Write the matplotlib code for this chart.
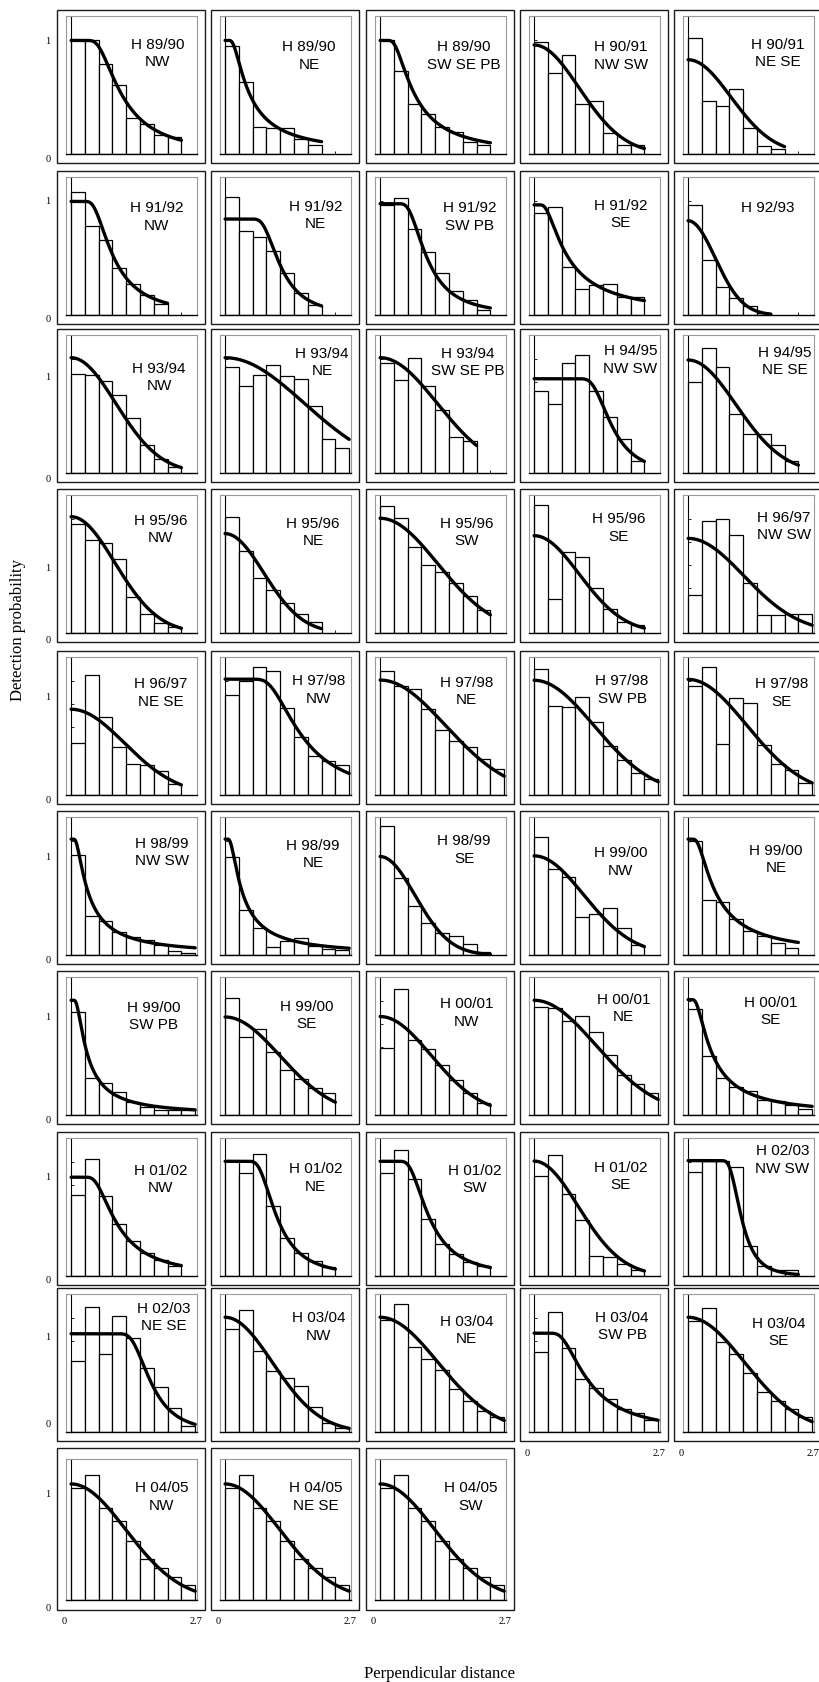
import numpy as np
import matplotlib.pyplot as plt
from matplotlib.patches import Rectangle
from matplotlib.transforms import offset_copy

W, H = 819, 1683
SERIF = ["Liberation Serif", "DejaVu Serif"]
SANS = ["Liberation Sans", "DejaVu Sans"]

# panel titles (season, strata), row by row
seasons = ["H 89/90", "H 89/90", "H 89/90", "H 90/91", "H 90/91",
           "H 91/92", "H 91/92", "H 91/92", "H 91/92", "H 92/93",
           "H 93/94", "H 93/94", "H 93/94", "H 94/95", "H 94/95",
           "H 95/96", "H 95/96", "H 95/96", "H 95/96", "H 96/97",
           "H 96/97", "H 97/98", "H 97/98", "H 97/98", "H 97/98",
           "H 98/99", "H 98/99", "H 98/99", "H 99/00", "H 99/00",
           "H 99/00", "H 99/00", "H 00/01", "H 00/01", "H 00/01",
           "H 01/02", "H 01/02", "H 01/02", "H 01/02", "H 02/03",
           "H 02/03", "H 03/04", "H 03/04", "H 03/04", "H 03/04",
           "H 04/05", "H 04/05", "H 04/05"]
strata = ["NW", "NE", "SW SE PB", "NW SW", "NE SE",
          "NW", "NE", "SW PB", "SE", "",
          "NW", "NE", "SW SE PB", "NW SW", "NE SE",
          "NW", "NE", "SW", "SE", "NW SW",
          "NE SE", "NW", "NE", "SW PB", "SE",
          "NW SW", "NE", "SE", "NW", "NE",
          "SW PB", "SE", "NW", "NE", "SE",
          "NW", "NE", "SW", "SE", "NW SW",
          "NE SE", "NW", "NE", "SW PB", "SE",
          "NW", "NE SE", "SW"]

# scaled histogram heights, bins of 0.3 starting at 0
bars = [
    [1.0, 1.0, 0.79, 0.61, 0.315, 0.265, 0.17, 0.15],
    [0.95, 0.63, 0.24, 0.23, 0.23, 0.13, 0.08],
    [1.0, 0.735, 0.44, 0.35, 0.24, 0.19, 0.11, 0.08],
    [0.985, 0.71, 0.87, 0.44, 0.47, 0.185, 0.08, 0.08],
    [1.02, 0.47, 0.42, 0.57, 0.23, 0.07, 0.04],
    [1.08, 0.78, 0.66, 0.41, 0.27, 0.18, 0.10],
    [1.04, 0.74, 0.69, 0.565, 0.37, 0.19, 0.09],
    [0.97, 1.03, 0.76, 0.555, 0.37, 0.21, 0.13, 0.045],
    [0.90, 0.95, 0.42, 0.23, 0.26, 0.275, 0.16, 0.16],
    [0.97, 0.48, 0.25, 0.15, 0.08, 0.015],
    [0.875, 0.86, 0.81, 0.685, 0.48, 0.245, 0.12, 0.05],
    [0.935, 0.765, 0.86, 0.955, 0.857, 0.83, 0.59, 0.30, 0.22],
    [0.965, 0.82, 1.01, 0.77, 0.555, 0.32, 0.28],
    [0.72, 0.61, 0.965, 1.04, 0.72, 0.495, 0.30, 0.11],
    [0.80, 1.10, 0.93, 0.52, 0.346, 0.346, 0.25, 0.107],
    [0.96, 0.82, 0.79, 0.65, 0.316, 0.164, 0.087, 0.057],
    [1.02, 0.72, 0.48, 0.38, 0.26, 0.164, 0.10],
    [1.12, 1.015, 0.76, 0.60, 0.54, 0.44, 0.325, 0.20],
    [1.13, 0.30, 0.71, 0.666, 0.40, 0.215, 0.093, 0.07],
    [0.334, 0.985, 1.0, 0.866, 0.436, 0.16, 0.16, 0.17, 0.17],
    [0.46, 1.06, 0.69, 0.42, 0.276, 0.266, 0.207, 0.10],
    [0.88, 1.0, 1.13, 1.09, 0.77, 0.515, 0.34, 0.30, 0.26],
    [1.094, 0.963, 0.933, 0.76, 0.57, 0.477, 0.42, 0.313, 0.228],
    [1.11, 0.785, 0.778, 0.86, 0.64, 0.43, 0.31, 0.195, 0.137],
    [0.963, 1.13, 0.453, 0.857, 0.81, 0.44, 0.27, 0.22, 0.11],
    [0.88, 0.343, 0.30, 0.20, 0.156, 0.134, 0.085, 0.037, 0.02],
    [0.86, 0.395, 0.235, 0.072, 0.12, 0.15, 0.08, 0.05, 0.04],
    [1.135, 0.678, 0.432, 0.284, 0.19, 0.167, 0.10, 0.025],
    [1.04, 0.753, 0.687, 0.337, 0.36, 0.41, 0.235, 0.084],
    [1.003, 0.486, 0.47, 0.316, 0.207, 0.17, 0.103, 0.06],
    [0.904, 0.324, 0.28, 0.204, 0.114, 0.07, 0.045, 0.04, 0.04],
    [1.03, 0.69, 0.754, 0.555, 0.40, 0.32, 0.24, 0.196],
    [0.59, 1.11, 0.656, 0.58, 0.44, 0.31, 0.19, 0.108],
    [0.954, 0.94, 0.83, 0.87, 0.73, 0.53, 0.355, 0.27, 0.19],
    [0.937, 0.52, 0.33, 0.25, 0.214, 0.136, 0.12, 0.09, 0.057],
    [0.716, 1.034, 0.70, 0.46, 0.31, 0.204, 0.137, 0.085],
    [1.01, 0.91, 1.07, 0.62, 0.336, 0.20, 0.13, 0.083],
    [0.905, 1.11, 0.854, 0.50, 0.28, 0.19, 0.12, 0.085],
    [0.882, 1.063, 0.72, 0.49, 0.172, 0.166, 0.109, 0.05],
    [0.92, 1.016, 1.016, 0.964, 0.26, 0.09, 0.05, 0.052],
    [0.627, 1.097, 0.69, 1.022, 0.824, 0.564, 0.40, 0.213, 0.05],
    [0.908, 1.076, 0.71, 0.535, 0.477, 0.404, 0.22, 0.083, 0.037],
    [0.99, 1.123, 0.745, 0.646, 0.548, 0.38, 0.277, 0.185, 0.135],
    [0.708, 1.055, 0.74, 0.468, 0.39, 0.29, 0.206, 0.17, 0.108],
    [0.975, 1.09, 0.794, 0.686, 0.517, 0.35, 0.277, 0.206, 0.13],
    [0.963, 1.08, 0.79, 0.68, 0.51, 0.35, 0.28, 0.20, 0.13],
    [0.963, 1.08, 0.79, 0.68, 0.51, 0.35, 0.28, 0.20, 0.13],
    [0.963, 1.08, 0.79, 0.68, 0.51, 0.35, 0.28, 0.20, 0.13],
]
bin_width = 0.3

# fitted detection functions: hazard-rate ("hr") or half-normal ("hn")
fit_model = ["hr", "hr", "hr", "hn", "hn",
             "hr", "hr", "hr", "hr", "hn",
             "hn", "hn", "hn", "hr", "hn",
             "hn", "hn", "hn", "hn", "hn",
             "hn", "hr", "hn", "hn", "hn",
             "hr", "hr", "hn", "hn", "hr",
             "hr", "hn", "hn", "hn", "hr",
             "hr", "hr", "hr", "hn", "hr",
             "hr", "hn", "hn", "hr", "hn",
             "hn", "hn", "hn"]
fit_g0 = [1.0, 1.0, 1.0, 0.96, 0.83,
          1.0, 0.845, 0.98, 0.97, 0.83,
          1.015, 1.015, 1.015, 0.83, 0.995,
          1.024, 0.875, 1.01, 0.857, 0.833,
          0.755, 1.02, 1.012, 1.01, 1.018,
          1.02, 1.02, 0.867, 0.873, 1.02,
          1.01, 0.863, 0.867, 1.01, 1.016,
          0.87, 1.01, 1.01, 1.012, 1.016,
          0.865, 1.01, 1.01, 0.87, 1.01,
          1.0, 1.0, 1.0]
fit_sigma = [0.965, 0.433, 0.633, 0.98, 0.93,
             0.80, 1.10, 0.91, 0.60, 0.59,
             0.97, 1.72, 1.24, 1.57, 1.04,
             0.95, 0.84, 1.25, 0.98, 1.21,
             1.16, 1.47, 1.42, 1.30, 1.27,
             0.305, 0.31, 0.76, 1.08, 0.50,
             0.29, 1.19, 1.11, 1.35, 0.43,
             0.88, 1.02, 0.95, 0.96, 1.09,
             1.62, 1.03, 1.26, 1.02, 1.23,
             1.19, 1.19, 1.19]
fit_shape = [2.25, 1.37, 1.70, 0, 0,
             2.3, 3.57, 2.82, 1.42, 0,
             0, 0, 0, 4.78, 0,
             0, 0, 0, 0, 0,
             0, 2.6, 0, 0, 0,
             1.26, 1.3, 0, 0, 1.38,
             1.38, 0, 0, 0, 1.39,
             2.19, 3.24, 2.77, 0, 5.48,
             4.92, 0, 0, 2.12, 0,
             0, 0, 0]

# layout (pixels of the 819x1683 figure)
col_left = [57, 211, 366, 520, 674]
row_top = [11, 172, 330, 490, 652, 812, 972, 1133, 1289, 1449]
row_h = [153] * 9 + [162]
box_w = 148
label_pos = [(0.70, 0.80), (0.68, 0.78), (0.68, 0.78), (0.70, 0.78), (0.72, 0.80),
             (0.69, 0.78), (0.73, 0.79), (0.72, 0.78), (0.70, 0.80), (0.65, 0.78),
             (0.71, 0.76), (0.78, 0.87), (0.71, 0.87), (0.775, 0.89), (0.78, 0.88),
             (0.72, 0.82), (0.71, 0.80), (0.70, 0.80), (0.685, 0.83), (0.77, 0.84),
             (0.72, 0.81), (0.75, 0.83), (0.70, 0.82), (0.71, 0.83), (0.75, 0.81),
             (0.73, 0.815), (0.71, 0.80), (0.68, 0.83), (0.70, 0.745), (0.71, 0.76),
             (0.67, 0.785), (0.66, 0.79), (0.70, 0.81), (0.72, 0.84), (0.67, 0.82),
             (0.72, 0.77), (0.73, 0.78), (0.76, 0.77), (0.70, 0.79), (0.76, 0.91),
             (0.745, 0.90), (0.75, 0.83), (0.70, 0.805), (0.71, 0.835), (0.73, 0.79),
             (0.73, 0.80), (0.73, 0.80), (0.73, 0.80)]
ylab_one = [42, 202, 377, 569, 698, 858, 1018, 1178, 1338, 1495]
ylab_zero = [160, 319, 479, 641, 801, 961, 1121, 1281, 1425, 1609]
bottom_panel = {0: 45, 1: 46, 2: 47, 3: 43, 4: 44}


def detection(model, g0, sigma, shape, x):
    if model == "hr":
        return g0 * (1 - np.exp(-(x / sigma) ** (-shape)))
    return g0 * np.exp(-x ** 2 / (2 * sigma ** 2))


fig = plt.figure(figsize=(W / 100, H / 100), dpi=100)

for i in range(len(bars)):
    row, col = divmod(i, 5)
    bx, by, bh = col_left[col], row_top[row], row_h[row]
    fig.patches.append(Rectangle((bx / W, 1 - (by + bh) / H), box_w / W, bh / H,
                                 transform=fig.transFigure, fill=False,
                                 lw=1.0, ec="#1a1a1a"))
    top_in = 11 if row == 9 else 6
    bot_in = 10 if row == 9 else 9
    ax = fig.add_axes([(bx + 9) / W, 1 - (by + bh - bot_in) / H,
                       131 / W, (bh - top_in - bot_in) / H])
    ax.set_xlim(-0.11, 2.74)
    ax.set_ylim(0, 1.215)

    h = bars[i]
    edges = np.arange(len(h)) * bin_width
    ax.bar(edges, h, width=bin_width, align="edge", color="white",
           edgecolor="black", lw=0.9, zorder=2)
    xs = np.linspace(0.001, bin_width * len(h), 300)
    ax.plot(xs, detection(fit_model[i], fit_g0[i], fit_sigma[i], fit_shape[i], xs),
            color="black", lw=2.4, zorder=4, solid_capstyle="round")

    ax.spines["left"].set_position(("data", 0))
    ax.spines["left"].set_color("black")
    ax.spines["left"].set_linewidth(0.8)
    ax.spines["bottom"].set_color("black")
    ax.spines["bottom"].set_linewidth(1.0)
    for s in ("top", "right"):
        ax.spines[s].set_color("#9a9a9a")
        ax.spines[s].set_linewidth(0.8)
    ax.plot([0, 0], [0, 1], transform=ax.transAxes, color="#9a9a9a",
            lw=0.8, clip_on=False, zorder=1)
    ax.set_yticks(np.arange(0, 1.01, 0.2))
    ax.set_xticks([0.4, 1.4, 2.4])
    ax.tick_params(direction="in", length=2.5, width=0.6,
                   labelleft=False, labelbottom=False)

    lx, ly = label_pos[i]
    ax.text(lx, ly, seasons[i], transform=ax.transAxes, ha="center",
            va="center", family=SANS, fontsize=11, zorder=5)
    if strata[i]:
        tr = offset_copy(ax.transAxes, fig=fig, y=-12.5, units="points")
        ax.text(lx, ly, strata[i], transform=tr, ha="center", va="center",
                family=SANS, fontsize=11, zorder=5)

    if bottom_panel[col] == i:
        tr = offset_copy(ax.transAxes, fig=fig, y=-15, units="points")
        ax.text(-0.015, 0, "0", transform=tr, ha="center", va="center",
                family=SERIF, fontsize=7.5)
        ax.text(0.99, 0, "2.7", transform=tr, ha="center", va="center",
                family=SERIF, fontsize=7.5)

for r in range(len(row_top)):
    fig.text(48 / W, 1 - ylab_one[r] / H, "1", ha="center", va="center",
             family=SERIF, fontsize=7.5)
    fig.text(48 / W, 1 - ylab_zero[r] / H, "0", ha="center", va="center",
             family=SERIF, fontsize=7.5)

fig.text(18 / W, 1 - 630 / H, "Detection probability", rotation=90,
         ha="center", va="center", family=SERIF, fontsize=12)
fig.text(440 / W, 1 - 1674 / H, "Perpendicular distance",
         ha="center", va="center", family=SERIF, fontsize=12)

fig.savefig("out.png", dpi=100)
